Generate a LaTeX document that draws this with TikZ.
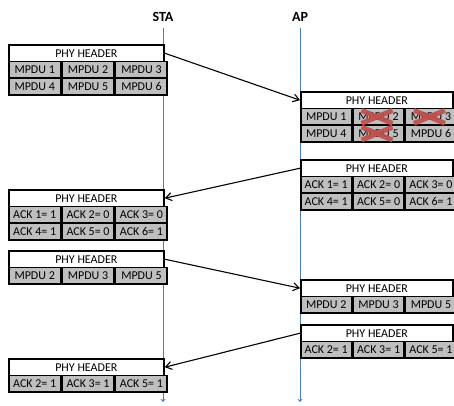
\documentclass[tikz,border=0pt]{standalone}
\usepackage{fontspec}
\setmainfont{Carlito}
\usetikzlibrary{arrows.meta,calc}
\definecolor{lifeblue}{RGB}{74,126,187}
\definecolor{cellgray}{RGB}{191,191,191}
\definecolor{crossred}{RGB}{192,80,77}
\tikzset{
  hdrbox/.style={draw=black, line width=1.7pt, fill=white, minimum height=16.7pt,
    inner sep=0pt, anchor=north west, font=\fontsize{12}{13}\selectfont},
  cellbox/.style={draw=black, line width=1.7pt, fill=cellgray, minimum height=16.7pt,
    inner sep=0pt, anchor=north west, font=\fontsize{12}{13}\selectfont},
  msg/.style={draw=black, line width=1.1pt, -{Straight Barb[length=6pt,width=8pt,line width=1.1pt]}},
  life/.style={draw=lifeblue, line width=0.9pt, -{Stealth[length=3pt,width=5pt]}},
  xmark/.style={draw=crossred, line width=5pt, opacity=0.92},
  lbl/.style={font=\fontsize{14}{16}\selectfont\bfseries, inner sep=0pt}
}
\newcommand\mkhdr[4]{%
  \node[hdrbox, minimum width=#4pt] (#1) at (#2,#3) {PHY HEADER};}
\newcommand\mkrow[7]{%
  \pgfmathsetmacro\cwd{#4/3}%
  \node[cellbox, minimum width=\cwd pt] (#1a) at (#2,#3) {#5};
  \node[cellbox, minimum width=\cwd pt] (#1b) at (#1a.north east) {#6};
  \node[cellbox, minimum width=\cwd pt] (#1c) at (#1b.north east) {#7};}
\newcommand\xout[1]{%
  \draw[xmark] ($(#1.center)+(-17,-6.5)$) -- ($(#1.center)+(14,6.5)$);
  \draw[xmark] ($(#1.center)+(-17,6.5)$) -- ($(#1.center)+(14,-6.5)$);}
\begin{document}
\begin{tikzpicture}[x=1pt,y=-1pt]
\useasboundingbox (0,0) rectangle (454,405);
% labels and lifelines
\node[lbl] (sta) at (163,17) {STA};
\node[lbl] (ap) at (300,17) {AP};
\coordinate (staTop) at (163,28);
\coordinate (staBot) at (163,402);
\coordinate (apTop) at (300,28);
\coordinate (apBot) at (300,402);
\draw[life] (staTop) -- (staBot);
\draw[life] (apTop) -- (apBot);
% B1 STA data
\mkhdr{h1}{8}{44}{155}
\mkrow{r1x}{8}{60.7}{155}{MPDU 1}{MPDU 2}{MPDU 3}
\mkrow{r1y}{8}{77.4}{155}{MPDU 4}{MPDU 5}{MPDU 6}
% B2 AP data received
\mkhdr{h2}{300}{91}{152}
\mkrow{r2x}{300}{107.7}{152}{MPDU 1}{MPDU 2}{MPDU 3}
\mkrow{r2y}{300}{124.4}{152}{MPDU 4}{MPDU 5}{MPDU 6}
\xout{r2xb}
\xout{r2xc}
\xout{r2yb}
% B3 AP ack
\mkhdr{h3}{300}{159}{152}
\mkrow{r3x}{300}{175.7}{152}{ACK 1= 1}{ACK 2= 0}{ACK 3= 0}
\mkrow{r3y}{300}{192.4}{152}{ACK 4= 1}{ACK 5= 0}{ACK 6= 1}
% B4 STA ack
\mkhdr{h4}{8}{189}{155}
\mkrow{r4x}{8}{205.7}{155}{ACK 1= 1}{ACK 2= 0}{ACK 3= 0}
\mkrow{r4y}{8}{222.4}{155}{ACK 4= 1}{ACK 5= 0}{ACK 6= 1}
% B5 STA retransmission
\mkhdr{h5}{8}{250}{155}
\mkrow{r5x}{8}{266.7}{155}{MPDU 2}{MPDU 3}{MPDU 5}
% B6 AP received
\mkhdr{h6}{300}{279}{152}
\mkrow{r6x}{300}{295.7}{152}{MPDU 2}{MPDU 3}{MPDU 5}
% B7 AP ack
\mkhdr{h7}{300}{324}{152}
\mkrow{r7x}{300}{340.7}{152}{ACK 2= 1}{ACK 3= 1}{ACK 5= 1}
% B8 STA ack
\mkhdr{h8}{8}{358}{155}
\mkrow{r8x}{8}{374.7}{155}{ACK 2= 1}{ACK 3= 1}{ACK 5= 1}
% messages
\draw[msg] (h1.east) -- (h2.west);
\draw[msg] (h3.west) -- (h4.east);
\draw[msg] (h5.east) -- (h6.west);
\draw[msg] (h7.west) -- (h8.east);
\end{tikzpicture}
\end{document}
